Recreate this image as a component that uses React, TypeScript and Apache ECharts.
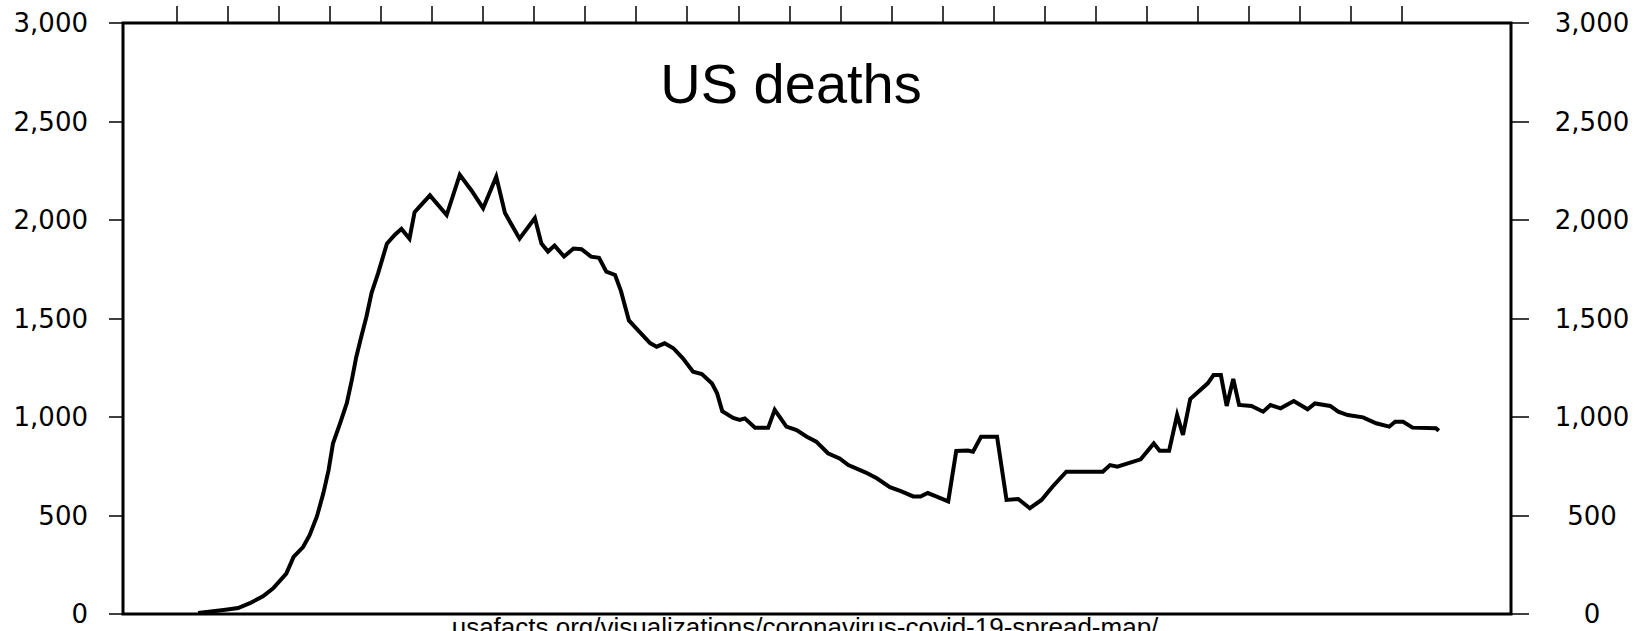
import React, { useEffect, useRef } from "react";
import * as echarts from "echarts";

const TITLE = "US deaths";
const SOURCE = "usafacts.org/visualizations/coronavirus-covid-19-spread-map/";

const Y_MIN = 0;
const Y_MAX = 3000;
const Y_STEP = 500;

// x in days, day 0 = first weekly tick
const X_MIN = -7.4;
const X_MAX = 183;
const weekTicks = [0, 7, 14, 21, 28, 35, 42, 49, 56, 63, 70, 77, 84, 91, 98, 105, 112, 119, 126, 133, 140, 147, 154, 161, 168];

const days = [
  2.9, 6.4, 8.4, 10, 11.8, 13.2, 15, 16, 17.3, 18.2, 19.2, 20.1, 20.8, 21.4, 22.4, 23.3, 24, 24.6, 25.3, 26,
  26.7, 27.6, 28.8, 29.9, 30.8, 31.9, 32.6, 34.7, 37, 38.8, 40.4, 42, 43.8, 45, 47, 49.1, 50, 50.9, 51.8, 53.1,
  54.4, 55.5, 56.8, 57.9, 58.9, 60.1, 60.9, 62, 63.2, 64.9, 65.8, 66.9, 68.1, 69.4, 70.8, 72, 73.4, 74.1, 74.8, 76.3,
  77.2, 77.9, 79.3, 81.1, 82, 83.6, 85, 86.4, 87.7, 89.3, 90.9, 92.1, 94.5, 96, 97.8, 99.3, 101, 102, 103, 104.3,
  105.8, 106.9, 108.5, 109.2, 110.3, 112.5, 113.8, 115.4, 117, 118.6, 120.1, 122, 127, 128, 129, 132.2, 134, 134.8, 136.1, 137.2,
  138, 139, 141.4, 142.2, 143.2, 144, 144.9, 145.7, 147.4, 149, 150, 151.4, 153.2, 155.1, 156.1, 158.2, 159.3, 160.6, 162.7, 164.5,
  166.3, 167.1, 168.2, 169.5, 172.7, 173.1,
];

const deaths = [
  5, 20, 30, 55, 90, 130, 205, 290, 340, 400, 495, 615, 730, 865, 970, 1070, 1190, 1305, 1410, 1510,
  1630, 1730, 1880, 1925, 1955, 1905, 2040, 2125, 2025, 2230, 2150, 2060, 2220, 2035, 1905, 2010, 1880, 1840, 1870, 1815,
  1855, 1852, 1814, 1808, 1738, 1721, 1640, 1490, 1442, 1375, 1357, 1374, 1349, 1298, 1230, 1218, 1170, 1120, 1030, 995,
  985, 993, 945, 945, 1036, 951, 934, 900, 875, 816, 790, 756, 718, 689, 644, 624, 597, 596, 614, 595,
  572, 828, 830, 824, 900, 900, 579, 584, 537, 579, 646, 722, 722, 756, 748, 785, 866, 829, 829, 1010,
  909, 1091, 1171, 1213, 1213, 1056, 1193, 1061, 1056, 1027, 1061, 1044, 1081, 1039, 1069, 1056, 1027, 1010, 998, 968,
  951, 976, 976, 946, 943, 930,
];

const fmt = (v: number) => v.toLocaleString("en-US");

export default function App() {
  const ref = useRef<HTMLDivElement>(null);

  useEffect(() => {
    if (!ref.current) return;
    const chart = echarts.init(ref.current, undefined, { renderer: "svg" });
    const seriesData = days.map((d, i) => [d, deaths[i]]);
    const labelFont = {
      fontFamily: "DejaVu Sans",
      fontSize: 26,
      color: "#000",
    };
    const tickLine = { color: "#000", width: 1.5 };
    chart.setOption({
      animation: false,
      backgroundColor: "#fff",
      grid: {
        left: 123,
        top: 23,
        right: 124,
        bottom: 17,
        show: true,
        borderColor: "#000",
        borderWidth: 3,
        backgroundColor: "transparent",
        z: 4,
      },
      xAxis: [
        {
          type: "value",
          position: "bottom",
          min: X_MIN,
          max: X_MAX,
          axisLine: { show: false, onZero: false },
          axisTick: { show: false },
          axisLabel: { show: false },
          splitLine: { show: false },
        },
        {
          type: "value",
          position: "top",
          min: X_MIN,
          max: X_MAX,
          axisLine: { show: false, onZero: false },
          axisTick: {
            show: true,
            inside: false,
            length: 17,
            customValues: weekTicks,
            lineStyle: tickLine,
          },
          axisLabel: { show: false },
          splitLine: { show: false },
        },
      ],
      yAxis: [
        {
          type: "value",
          position: "left",
          min: Y_MIN,
          max: Y_MAX,
          interval: Y_STEP,
          axisLine: { show: false, onZero: false },
          axisTick: { show: true, inside: false, length: 14, lineStyle: tickLine },
          axisLabel: { ...labelFont, margin: 35, formatter: fmt },
          splitLine: { show: false },
        },
        {
          type: "value",
          position: "right",
          min: Y_MIN,
          max: Y_MAX,
          interval: Y_STEP,
          axisLine: { show: false, onZero: false },
          axisTick: { show: true, inside: false, length: 18, lineStyle: tickLine },
          axisLabel: { ...labelFont, margin: 81, align: "center", formatter: fmt },
          splitLine: { show: false },
        },
      ],
      graphic: [
        {
          type: "text",
          x: 791,
          y: 83,
          style: {
            text: TITLE,
            fontFamily: "Liberation Sans, Arial, sans-serif",
            fontSize: 56,
            fill: "#000",
            textAlign: "center",
            textVerticalAlign: "middle",
          },
        },
        {
          type: "text",
          x: 805,
          y: 627,
          style: {
            text: SOURCE,
            fontFamily: "Liberation Sans, Arial, sans-serif",
            fontSize: 26,
            fill: "#000",
            textAlign: "center",
            textVerticalAlign: "middle",
          },
        },
      ],
      series: [
        {
          type: "line",
          xAxisIndex: 0,
          yAxisIndex: 0,
          data: seriesData,
          showSymbol: false,
          symbol: "none",
          smooth: false,
          lineStyle: { color: "#000", width: 4, join: "miter" },
          z: 3,
        },
      ],
    });
    return () => chart.dispose();
  }, []);

  return (
    <div
      ref={ref}
      style={{ position: "absolute", left: 0, top: 0, width: 1635, height: 631 }}
    />
  );
}
